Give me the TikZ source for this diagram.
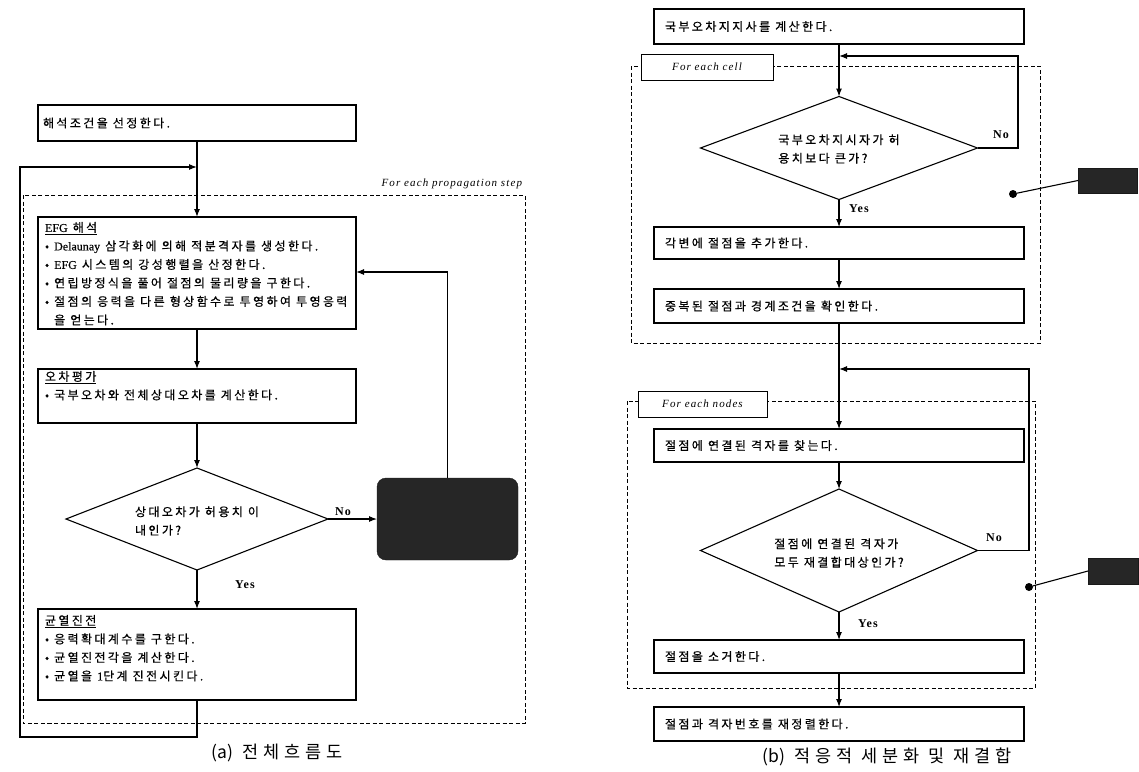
\documentclass[tikz,border=0pt]{standalone}
\usepackage{fontspec}
\usetikzlibrary{shapes.geometric,arrows.meta}
\newfontfamily\krf{Noto Sans CJK KR}[LetterSpace=20,FakeBold=0.6]
\newfontfamily\capf{Noto Sans CJK KR}[LetterSpace=28]
\newfontfamily\capn{Noto Sans CJK KR}
\newfontfamily\serf{Liberation Serif}[FakeBold=0.4]
\newfontfamily\serfs{Liberation Serif}[LetterSpace=10]
\newcommand\la[1]{{\serf #1}}
\newcommand\pn[1]{{\capn #1}}
\begin{document}
\begin{tikzpicture}[x=1pt,y=-1pt,
  every node/.style={inner sep=0pt,outer sep=0pt},
  ln/.style={line width=1.1pt},
  lbox/.style={draw,ln,minimum width=318pt,minimum height=#1},
  rbox/.style={draw,ln,minimum width=370pt,minimum height=#1},
  dia/.style={draw,ln,diamond,minimum width=#1},
  txt/.style={font={\krf\fontsize{12}{18.5}\selectfont},align=left},
  lab/.style={draw,line width=1pt,fill=white,minimum width=#1,minimum height=26pt,font={\serfs\itshape\fontsize{11}{13}\selectfont}},
  yn/.style={font={\serfs\bfseries\fontsize{12}{14}\selectfont}},
  dbox/.style={ln,dashed,dash pattern=on 4pt off 2.5pt,line width=1pt},
  arr/.style={ln,-{Latex[length=8pt,width=6pt]}},
  dark/.style={fill=black!85,draw=black!90},
  dot/.style={circle,fill=black,minimum size=8pt},
  capt/.style={font={\capf\fontsize{17.5}{21}\selectfont}}]
\useasboundingbox (0,0) rectangle (1139,771);

% ---------------- left panel ----------------
\draw[dbox] (23,195) rectangle (525,723);
\node[anchor=east,font={\serfs\itshape\fontsize{11}{13}\selectfont}] (prop) at (522,184) {For each propagation step};

\node[lbox=36pt] (a1) at (197,123) {};
\node[txt,anchor=west] at ([xshift=5pt]a1.west) {해석조건을 선정한다.};

\node[lbox=112pt] (efg) at (197,273) {};
\node[txt,anchor=north west] at ([xshift=7pt,yshift=-5pt]efg.north west)
 {\underline{\la{EFG} 해석}\\
  • \la{Delaunay} 삼각화에 의해 적분격자를 생성한다.\\
  • \la{EFG} 시스템의 강성행렬을 산정한다.\\
  • 연립방정식을 풀어 절점의 물리량을 구한다.\\
  • 절점의 응력을 다른 형상함수로 투영하여 투영응력\\
  \hphantom{• }을 얻는다.};

\node[lbox=54pt] (err) at (197,396) {};
\node[txt,anchor=north west] at ([xshift=7pt,yshift=-2pt]err.north west)
 {\underline{오차평가}\\
  • 국부오차와 전체상대오차를 계산한다.};

\node[dia=262pt,minimum height=102pt] (dec) at (197,519) {};
\node[txt,align=left] at (197,521) {상대오차가 허용치 이\\내인가?};

\node[dark,rounded corners=9pt,minimum width=141pt,minimum height=82pt] (blk) at (447.5,519) {};

\node[lbox=91pt] (crk) at (197,654.5) {};
\node[txt,anchor=north west] at ([xshift=7pt,yshift=-6pt]crk.north west)
 {\underline{균열진전}\\
  • 응력확대계수를 구한다.\\
  • 균열진전각을 계산한다.\\
  • 균열을 \la{1}단계 진전시킨다.};

\node[yn] (noL) at (343,512) {No};
\node[yn] (yesL) at (245,585) {Yes};

\coordinate (j1) at (197,167);
\coordinate (fb) at (356,272);
\draw[arr] (a1) -- (efg);
\draw[arr] (efg) -- (err);
\draw[arr] (err) -- (dec);
\draw[arr] (dec) -- (blk);
\draw[arr] (dec) -- (crk);
\draw[arr] (blk.north) |- (fb);
\draw[arr] (crk.south) -- (197,737) -- (20,737) -- (20,167) -- (j1);

\node[capt] (capA) at (277,753) {\pn{(a)} 전체흐름도};

% ---------------- right panel ----------------
\draw[dbox] (631,66) rectangle (1040,343);
\draw[dbox] (627,401) rectangle (1035,688);
\node[lab=132pt] (cell) at (707,67) {For each cell};
\node[lab=129pt] (nodes) at (702.5,404) {For each nodes};

\node[rbox=35pt] (r1) at (839,26.5) {};
\node[txt,anchor=west] at ([xshift=11pt]r1.west) {국부오차지지사를 계산한다.};

\node[dia=277pt,minimum height=103pt] (rd1) at (839,148) {};
\node[txt] at (839,149) {국부오차지시자가 허\\용치보다 큰가?};

\node[rbox=32pt] (r2) at (839,243) {};
\node[txt,anchor=west] at ([xshift=11pt]r2.west) {각변에 절점을 추가한다.};

\node[rbox=34pt] (r3) at (839,306) {};
\node[txt,anchor=west] at ([xshift=11pt]r3.west) {중복된 절점과 경계조건을 확인한다.};

\node[rbox=33pt] (r4) at (839,445.5) {};
\node[txt,anchor=west] at ([xshift=11pt]r4.west) {절점에 연결된 격자를 찾는다.};

\node[dia=277pt,minimum height=123pt] (rd2) at (839,550.5) {};
\node[txt] at (839,553) {절점에 연결된 격자가\\모두 재결합대상인가?};

\node[rbox=33pt] (r5) at (839,656.5) {};
\node[txt,anchor=west] at ([xshift=11pt]r5.west) {절점을 소거한다.};

\node[rbox=34pt] (r6) at (839,724) {};
\node[txt,anchor=west] at ([xshift=11pt]r6.west) {절점과 격자번호를 재정렬한다.};

\node[yn] (no1) at (1001,135) {No};
\node[yn] (yes1) at (859,209) {Yes};
\node[yn] (no2) at (994,538) {No};
\node[yn] (yes2) at (868,624) {Yes};

\coordinate (j2) at (839,56);
\coordinate (j3) at (839,369);
\draw[arr] (r1) -- (rd1);
\draw[arr] (rd1.east) -- (1018,148) -- (1018,56) -- (j2);
\draw[arr] (rd1) -- (r2);
\draw[arr] (r2) -- (r3);
\draw[arr] (r3) -- (r4);
\draw[arr] (r4) -- (rd2);
\draw[arr] (rd2.east) -- (1029,550.5) -- (1029,369) -- (j3);
\draw[arr] (rd2) -- (r5);
\draw[arr] (r5) -- (r6);

\node[dot] (dt1) at (1013,194) {};
\node[dark,minimum width=59pt,minimum height=25pt] (db1) at (1107.5,180.5) {};
\draw[ln] (dt1) -- (db1.west);
\node[dot] (dt2) at (1029,587) {};
\node[dark,minimum width=50pt,minimum height=26pt] (db2) at (1113,571) {};
\draw[ln] (dt2) -- (db2.west);

\node[capt] (capB) at (887,757) {\pn{(b)} 적응적 세분화 및 재결합};
\end{tikzpicture}
\end{document}
